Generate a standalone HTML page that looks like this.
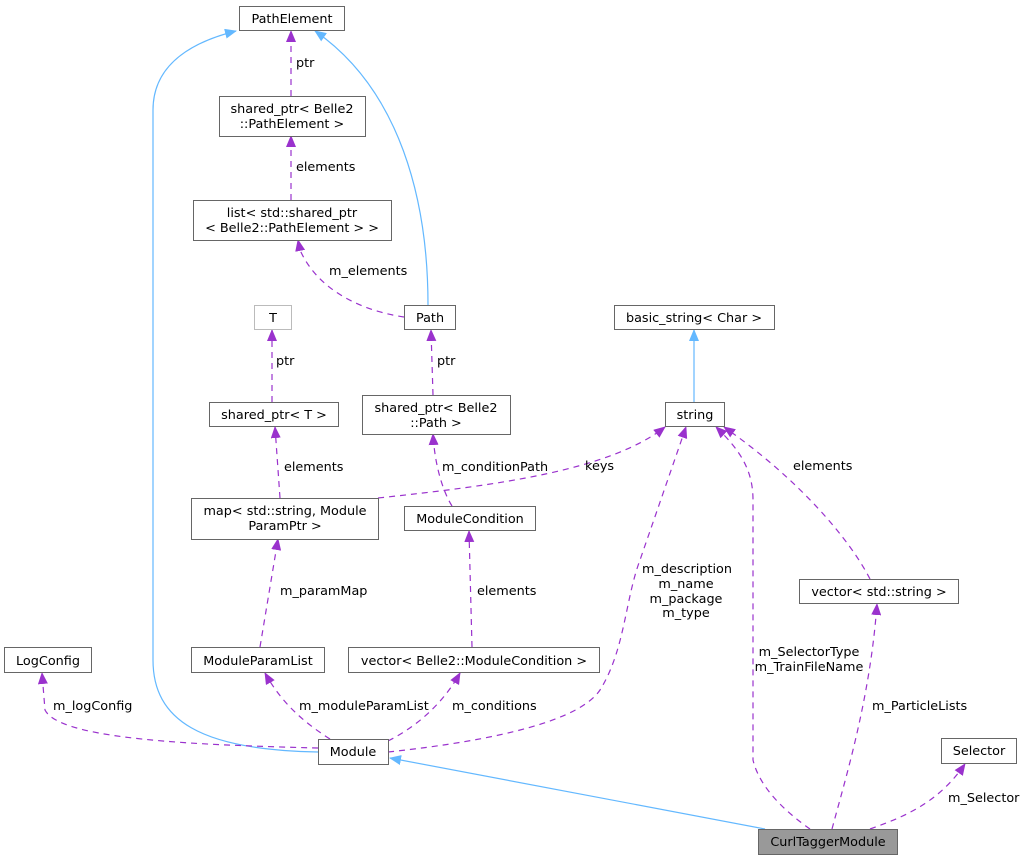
<!DOCTYPE html>
<html><head><meta charset="utf-8"><style>
html,body{margin:0;padding:0;background:#fff;}
svg{display:block;font-family:"DejaVu Sans","Liberation Sans",sans-serif;font-size:12.8px;}
</style></head><body>
<svg width="1027" height="861" viewBox="0 0 1027 861" xmlns="http://www.w3.org/2000/svg">
<defs>
<marker id="p" markerWidth="12" markerHeight="10" refX="11" refY="5" orient="auto" markerUnits="userSpaceOnUse"><path d="M0,0 L12,5 L0,10 Z" fill="#9a32cd"/></marker>
<marker id="b" markerWidth="12" markerHeight="10" refX="11" refY="5" orient="auto" markerUnits="userSpaceOnUse"><path d="M0,0 L12,5 L0,10 Z" fill="#63b8ff"/></marker>
</defs>
<g fill="none" stroke="#63b8ff" stroke-width="1.2">
<path d="M428,305 C428,200 400,90 315,31" marker-end="url(#b)"/>
<path d="M318,752 C200,750 153,720 153,660 L153,110 C153,60 200,40 236,31" marker-end="url(#b)"/>
<path d="M694,402 L694,330" marker-end="url(#b)"/>
<path d="M765,829 L390,758" marker-end="url(#b)"/>
</g>
<g fill="none" stroke="#9a32cd" stroke-width="1.2" stroke-dasharray="6,5">
<path d="M291,96 L291,31" marker-end="url(#p)"/>
<path d="M291,200 L291,136" marker-end="url(#p)"/>
<path d="M404,317 C370,312 320,295 300,250 L298,240" marker-end="url(#p)"/>
<path d="M272,402 L272,330" marker-end="url(#p)"/>
<path d="M433,395 L431,330" marker-end="url(#p)"/>
<path d="M280,498 L275,427" marker-end="url(#p)"/>
<path d="M452,506 C445,495 435,470 433,434" marker-end="url(#p)"/>
<path d="M378,498 C500,485 610,470 665,427" marker-end="url(#p)"/>
<path d="M260,647 L278,539" marker-end="url(#p)"/>
<path d="M472,647 L469,531" marker-end="url(#p)"/>
<path d="M318,748 C200,745 60,740 45,710 L42,673" marker-end="url(#p)"/>
<path d="M330,739 C300,720 280,700 265,673" marker-end="url(#p)"/>
<path d="M388,741 C420,725 445,700 460,673" marker-end="url(#p)"/>
<path d="M388,752 C500,740 580,720 600,690 C625,650 625,600 640,560 L686,427" marker-end="url(#p)"/>
<path d="M810,829 C790,815 760,790 753,760 L753,500 C753,470 740,450 716,427" marker-end="url(#p)"/>
<path d="M870,579 C850,540 800,480 724,427" marker-end="url(#p)"/>
<path d="M832,829 C845,780 870,700 877,604" marker-end="url(#p)"/>
<path d="M870,829 C910,815 940,800 965,764" marker-end="url(#p)"/>
</g>
<g stroke="#666" stroke-width="1" fill="#fff">
<rect x="239.5" y="6.5" width="105" height="24"/>
<rect x="219.5" y="96.5" width="146" height="40"/>
<rect x="193.5" y="200.5" width="198" height="40"/>
<rect x="254.5" y="305.5" width="37" height="24" stroke="#bbb"/>
<rect x="404.5" y="305.5" width="51" height="24"/>
<rect x="614.5" y="305.5" width="160" height="24"/>
<rect x="209.5" y="402.5" width="129" height="24"/>
<rect x="362.5" y="395.5" width="148" height="39"/>
<rect x="665.5" y="402.5" width="59" height="24"/>
<rect x="191.5" y="498.5" width="187" height="41"/>
<rect x="404.5" y="506.5" width="131" height="24"/>
<rect x="799.5" y="579.5" width="159" height="24"/>
<rect x="4.5" y="647.5" width="87" height="25"/>
<rect x="191.5" y="647.5" width="133" height="25"/>
<rect x="348.5" y="647.5" width="251" height="25"/>
<rect x="318.5" y="739.5" width="70" height="25"/>
<rect x="941.5" y="738.5" width="75" height="25"/>
<rect x="758.5" y="829.5" width="139" height="25" fill="#999"/>
</g>
<g fill="#000" text-anchor="middle">
<text x="292" y="23">PathElement</text>
<text x="292" y="113">shared_ptr&lt; Belle2</text>
<text x="292" y="128">::PathElement &gt;</text>
<text x="292" y="217">list&lt; std::shared_ptr</text>
<text x="292" y="232">&lt; Belle2::PathElement &gt; &gt;</text>
<text x="273" y="322">T</text>
<text x="430" y="322">Path</text>
<text x="694" y="322">basic_string&lt; Char &gt;</text>
<text x="274" y="419">shared_ptr&lt; T &gt;</text>
<text x="436" y="412">shared_ptr&lt; Belle2</text>
<text x="436" y="427">::Path &gt;</text>
<text x="695" y="419">string</text>
<text x="285" y="515">map&lt; std::string, Module</text>
<text x="285" y="530">ParamPtr &gt;</text>
<text x="470" y="523">ModuleCondition</text>
<text x="879" y="596">vector&lt; std::string &gt;</text>
<text x="48" y="665">LogConfig</text>
<text x="258" y="665">ModuleParamList</text>
<text x="474" y="665">vector&lt; Belle2::ModuleCondition &gt;</text>
<text x="353" y="756">Module</text>
<text x="979" y="755">Selector</text>
<text x="828" y="846">CurlTaggerModule</text>
</g>
<g fill="#000">
<text x="296" y="67">ptr</text>
<text x="296" y="171">elements</text>
<text x="329" y="275">m_elements</text>
<text x="276" y="365">ptr</text>
<text x="437" y="365">ptr</text>
<text x="284" y="471">elements</text>
<text x="442" y="471">m_conditionPath</text>
<text x="585" y="470">keys</text>
<text x="793" y="470">elements</text>
<text x="280" y="595">m_paramMap</text>
<text x="477" y="595">elements</text>
<text x="53" y="710">m_logConfig</text>
<text x="299" y="710">m_moduleParamList</text>
<text x="452" y="710">m_conditions</text>
<text x="872" y="710">m_ParticleLists</text>
<text x="948" y="802">m_Selector</text>
</g>
<g fill="#000" text-anchor="middle">
<text x="687" y="573">m_description</text>
<text x="686" y="588">m_name</text>
<text x="686" y="603">m_package</text>
<text x="686" y="617">m_type</text>
<text x="809" y="656">m_SelectorType</text>
<text x="809" y="671">m_TrainFileName</text>
</g>
</svg>
</body></html>
